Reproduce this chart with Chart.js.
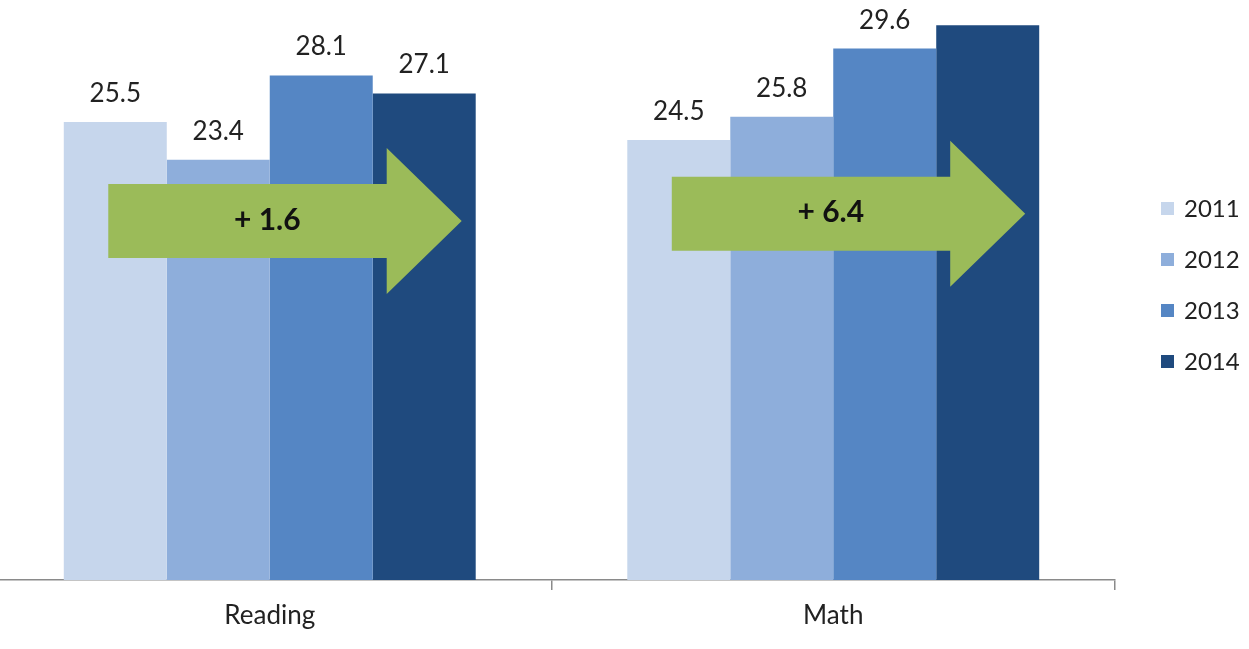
<!DOCTYPE html>
<html>
<head>
<meta charset="utf-8">
<script src="https://cdn.jsdelivr.net/npm/chart.js@4.4.1/dist/chart.umd.min.js"></script>
<style>
body{margin:0;background:#fff;}
#wrap{position:relative;width:1249px;height:649px;overflow:hidden;background:#fff;}
#scoreChart{position:absolute;left:-20px;top:0;}
</style>
</head>
<body>
<div id="wrap"><canvas id="scoreChart" width="1269" height="649"></canvas></div>
<script>

// ===============================
// Data
// ===============================

const categories=['Reading','Math'];
const years=['2011','2012','2013','2014'];

const scores2011=[25.5,24.5];
const scores2012=[23.4,25.8];
const scores2013=[28.1,29.6];
const scores2014=[27.1,30.9];

const yearColors=['#c6d6ec','#8eaedb','#5586c4','#1f4a7e'];

// height (in score units) where each gain arrow sits
const arrowLevel=[20.0,20.4];

const FONT='Lato, "Open Sans", sans-serif';


// ===============================
// Value labels + gain arrows
// ===============================

const overlayPlugin={

id:'overlay',

afterDatasetsDraw(chart){

const ctx=chart.ctx;
const area=chart.chartArea;
const yScale=chart.scales.y;

// value labels above each bar, clipped to the plot area
ctx.save();
ctx.beginPath();
ctx.rect(area.left,area.top,area.right-area.left,area.bottom-area.top);
ctx.clip();
ctx.fillStyle='#222';
ctx.font='26px '+FONT;
ctx.textAlign='center';
ctx.textBaseline='alphabetic';
chart.data.datasets.forEach((ds,d)=>{
chart.getDatasetMeta(d).data.forEach((bar,i)=>{
ctx.fillText(ds.data[i].toFixed(1),bar.x,bar.y-20);
});
});
ctx.restore();

// green arrow from first to last year in each group
const first=chart.getDatasetMeta(0).data;
const last=chart.getDatasetMeta(chart.data.datasets.length-1).data;

categories.forEach((c,i)=>{

const start=first[i].x-7;
const tip=last[i].x+last[i].width/2-14;
const headBase=tip-75;
const cy=yScale.getPixelForValue(arrowLevel[i]);

ctx.save();
ctx.fillStyle='#9bbb59';
ctx.beginPath();
ctx.moveTo(start,cy-37);
ctx.lineTo(headBase,cy-37);
ctx.lineTo(headBase,cy-73);
ctx.lineTo(tip,cy);
ctx.lineTo(headBase,cy+73);
ctx.lineTo(headBase,cy+37);
ctx.lineTo(start,cy+37);
ctx.closePath();
ctx.fill();

const gain=scores2014[i]-scores2011[i];
ctx.fillStyle='#111';
ctx.font='bold 30px '+FONT;
ctx.textAlign='center';
ctx.textBaseline='middle';
ctx.fillText('+ '+gain.toFixed(1),start+0.45*(tip-start),cy-1);
ctx.restore();

});

},

// legend on the right
afterDraw(chart){

const ctx=chart.ctx;
ctx.save();
ctx.font='24px '+FONT;
ctx.textAlign='left';
ctx.textBaseline='middle';
chart.data.datasets.forEach((ds,d)=>{
const y=208+d*51;
ctx.fillStyle=ds.backgroundColor;
ctx.fillRect(1181,y-6,13,13);
ctx.fillStyle='#222';
ctx.fillText(ds.label,1204,y+1);
});
ctx.restore();

}

};


// ===============================
// Scores by Subject (Bar Chart)
// ===============================

const scoreCtx=document.getElementById('scoreChart');

const seriesData=[scores2011,scores2012,scores2013,scores2014];

new Chart(scoreCtx,{

type:'bar',

data:{
labels:categories,
datasets:years.map((yr,d)=>({
label:yr,
data:seriesData[d],
backgroundColor:yearColors[d],
borderWidth:0,
categoryPercentage:0.731,
barPercentage:1
}))
},

options:{

responsive:false,
animation:false,
devicePixelRatio:1,

layout:{
padding:{left:8,right:134,top:9,bottom:0}
},

plugins:{
legend:{display:false},
tooltip:{enabled:false}
},

scales:{

x:{
grid:{
display:true,
drawOnChartArea:false,
offset:true,
color:'#8a8a8a',
tickLength:10,
lineWidth:1.5
},
border:{display:true,color:'#8a8a8a',width:1.5},
ticks:{
color:'#222',
font:{family:FONT,size:26},
padding:10
},
afterFit(scale){scale.height=69;}
},

y:{
display:false,
min:0,
max:31.8
}

}

},

plugins:[overlayPlugin]

});

</script>
</body>
</html>
